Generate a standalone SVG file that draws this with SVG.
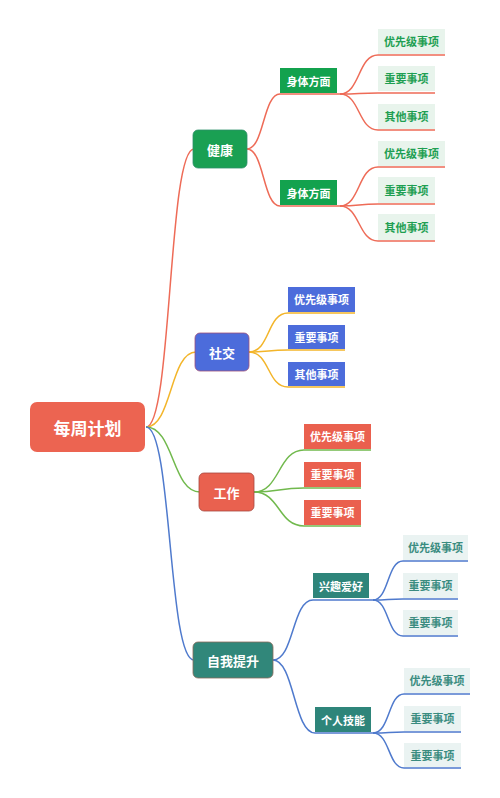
<svg xmlns="http://www.w3.org/2000/svg" width="500" height="798" viewBox="0 0 500 798">
<style>
text{font-family:"Noto Sans CJK SC","Noto Sans",sans-serif;font-weight:bold;text-anchor:middle;dominant-baseline:central}
.w{fill:#fff}
.c{fill:none;stroke-width:1.5}
.r{stroke:#EE6B57}.y{stroke:#F3B52A}.g{stroke:#71B94D}.b{stroke:#4F7ACD}
.lg{fill:#E8F4EC}.tg{fill:#1E9F52;font-size:11px}
.lt{fill:#EAF3F2}.tt{fill:#3A8C80;font-size:11px}
.tw{font-size:11px}
.tb{font-size:13px}
</style>
<rect width="500" height="798" fill="#fff"/>
<g id="connectors">
<!-- root to branches -->
<path class="c r" d="M146,427 C172,427 168,149 194,149"/>
<path class="c y" d="M146,427 C172,427 170,352 196,352"/>
<path class="c g" d="M146,427 C174,427 172,492 200,492"/>
<path class="c b" d="M146,427 C172,427 168,660 194,660"/>
<!-- 健康 -->
<path class="c r" d="M247,149 C264,149 263,94 280,94 L340,94"/>
<path class="c r" d="M247,149 C264,149 263,206 280,206 L340,206"/>
<path class="c r" d="M340,94 C360,94 358,55 378,55 L445,55"/>
<path class="c r" d="M340,94 C360,94 358,93 378,93 L435,93"/>
<path class="c r" d="M340,94 C360,94 358,130 378,130 L435,130"/>
<path class="c r" d="M340,206 C360,206 358,167 378,167 L445,167"/>
<path class="c r" d="M340,206 C360,206 358,204 378,204 L435,204"/>
<path class="c r" d="M340,206 C360,206 358,241 378,241 L435,241"/>
<!-- 社交 -->
<path class="c y" d="M249,352 C270,352 267,313 288,313 L355,313"/>
<path class="c y" d="M249,352 C270,352 267,350 288,350 L345,350"/>
<path class="c y" d="M249,352 C270,352 267,387 288,387 L345,387"/>
<!-- 工作 -->
<path class="c g" d="M254,492 C280,492 278,450 304,450 L371,450"/>
<path class="c g" d="M254,492 C280,492 278,488 304,488 L361,488"/>
<path class="c g" d="M254,492 C280,492 278,526 304,526 L361,526"/>
<!-- 自我提升 -->
<path class="c b" d="M273,660 C294,660 292,600 313,600 L373,600"/>
<path class="c b" d="M273,660 C294,660 294,733 315,733 L373,733"/>
<path class="c b" d="M373,600 C389,600 387,561 403,561 L468,561"/>
<path class="c b" d="M373,600 C389,600 387,599 403,599 L458,599"/>
<path class="c b" d="M373,600 C389,600 387,636 403,636 L458,636"/>
<path class="c b" d="M373,733 C390,733 388,694 404,694 L470,694"/>
<path class="c b" d="M373,733 C390,733 388,732 404,732 L461,732"/>
<path class="c b" d="M373,733 C390,733 388,768 404,768 L461,768"/>
</g>
<g id="root"><rect x="30" y="402" width="115" height="50" rx="7" fill="#EC6451"/><text x="87.5" y="427" class="w" font-size="17">每周计划</text></g>
<g id="health"><rect x="193" y="130" width="54" height="38" rx="5" fill="#1AA053" stroke="#2E8F6A" stroke-width="0.8"/><text x="220" y="149" class="w tb">健康</text></g>
<g id="social"><rect x="195" y="333" width="54" height="38" rx="5" fill="#4C6CDB" stroke="#A0527A" stroke-width="0.8"/><text x="222" y="352" class="w tb">社交</text></g>
<g id="work"><rect x="199" y="473" width="55" height="38" rx="5" fill="#E9614F" stroke="#A6473F" stroke-width="0.8"/><text x="226.5" y="492" class="w tb">工作</text></g>
<g id="self"><rect x="193" y="642" width="80" height="36" rx="5" fill="#31877A" stroke="#8A6A5A" stroke-width="0.8"/><text x="233" y="660" class="w tb">自我提升</text></g>
<g id="body1"><rect x="280" y="68" width="57" height="25" fill="#13A24E"/><text x="308.5" y="80.5" class="w tw">身体方面</text></g>
<g id="body2"><rect x="280" y="180" width="57" height="25" fill="#13A24E"/><text x="308.5" y="192.5" class="w tw">身体方面</text></g>
<g id="hobby"><rect x="313" y="573" width="56" height="25" fill="#2E857A"/><text x="341" y="585.5" class="w tw">兴趣爱好</text></g>
<g id="skill"><rect x="315" y="707" width="56" height="25" fill="#2E857A"/><text x="343" y="719.5" class="w tw">个人技能</text></g>
<g id="h1a"><rect x="378" y="29" width="67" height="25" class="lg"/><text x="411.5" y="41" class="tg">优先级事项</text></g>
<g id="h1b"><rect x="378" y="66" width="57" height="25" class="lg"/><text x="406.5" y="78" class="tg">重要事项</text></g>
<g id="h1c"><rect x="378" y="104" width="57" height="25" class="lg"/><text x="406.5" y="116" class="tg">其他事项</text></g>
<g id="h2a"><rect x="378" y="141" width="67" height="25" class="lg"/><text x="411.5" y="153" class="tg">优先级事项</text></g>
<g id="h2b"><rect x="378" y="177" width="57" height="26" class="lg"/><text x="406.5" y="189.5" class="tg">重要事项</text></g>
<g id="h2c"><rect x="378" y="214" width="57" height="26" class="lg"/><text x="406.5" y="226.5" class="tg">其他事项</text></g>
<g id="s1"><rect x="288" y="287" width="67" height="25" fill="#4C6CDB"/><text x="321.5" y="299" class="w tw">优先级事项</text></g>
<g id="s2"><rect x="288" y="325" width="57" height="24" fill="#4C6CDB"/><text x="316.5" y="337" class="w tw">重要事项</text></g>
<g id="s3"><rect x="288" y="362" width="57" height="24" fill="#4C6CDB"/><text x="316.5" y="374" class="w tw">其他事项</text></g>
<g id="w1"><rect x="304" y="424" width="67" height="25" fill="#EA604E"/><text x="337.5" y="436" class="w tw">优先级事项</text></g>
<g id="w2"><rect x="304" y="462" width="57" height="25" fill="#EA604E"/><text x="332.5" y="474" class="w tw">重要事项</text></g>
<g id="w3"><rect x="304" y="500" width="57" height="25" fill="#EA604E"/><text x="332.5" y="512" class="w tw">重要事项</text></g>
<g id="i1"><rect x="403" y="535" width="65" height="25" class="lt"/><text x="435.5" y="547" class="tt">优先级事项</text></g>
<g id="i2"><rect x="403" y="573" width="55" height="25" class="lt"/><text x="430.5" y="585" class="tt">重要事项</text></g>
<g id="i3"><rect x="403" y="610" width="55" height="25" class="lt"/><text x="430.5" y="622" class="tt">重要事项</text></g>
<g id="k1"><rect x="404" y="668" width="66" height="25" class="lt"/><text x="437" y="680" class="tt">优先级事项</text></g>
<g id="k2"><rect x="404" y="706" width="57" height="25" class="lt"/><text x="432.5" y="718" class="tt">重要事项</text></g>
<g id="k3"><rect x="404" y="743" width="57" height="24" class="lt"/><text x="432.5" y="755" class="tt">重要事项</text></g>
</svg>
